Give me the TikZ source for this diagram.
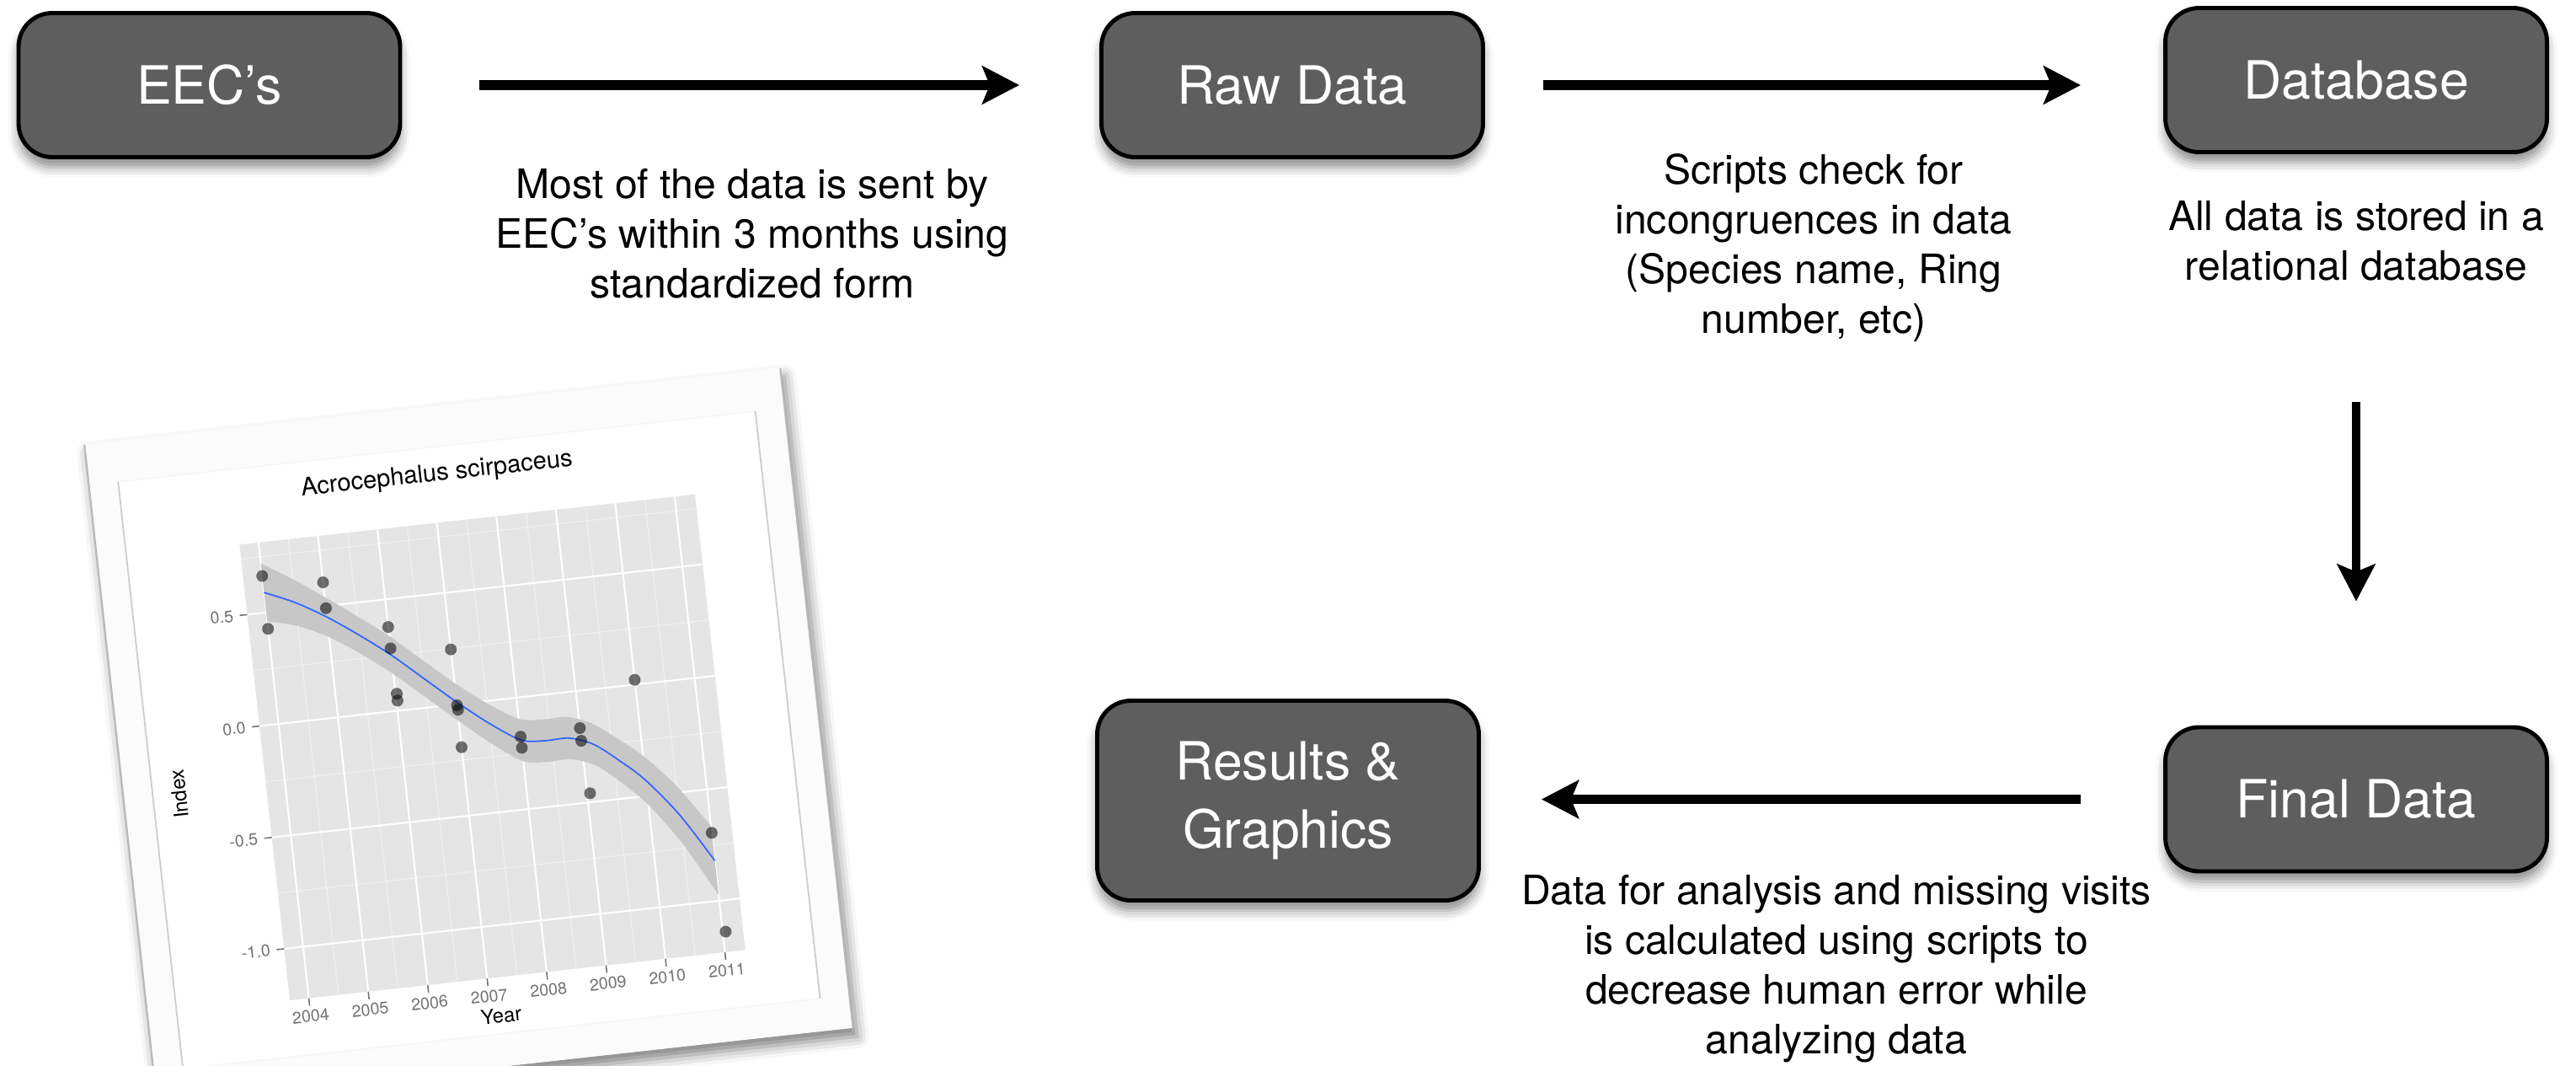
\documentclass[tikz,border=0pt]{standalone}
\usepackage{fontspec}
\setmainfont{TeX Gyre Heros}
\usetikzlibrary{arrows.meta,shadows.blur}

\definecolor{boxgray}{RGB}{94,94,94}
\definecolor{panelgray}{RGB}{229,229,229}
\definecolor{bandgray}{RGB}{199,199,199}
\definecolor{fitblue}{RGB}{51,102,255}
\definecolor{paperwhite}{RGB}{251,251,251}

\begin{document}
\begin{tikzpicture}[
    stagebox/.style={draw=black, line width=1.4pt, fill=boxgray, rounded corners=0.4cm,
        minimum width=4.53cm, minimum height=1.71cm, text=white, align=center,
        font=\fontsize{17.8}{23}\selectfont,
        blur shadow={shadow xshift=0pt, shadow yshift=-0.12cm,
            shadow blur radius=0.12cm, shadow opacity=45}},
    note/.style={align=center, font=\fontsize{13.7}{16.8}\selectfont},
    flow/.style={line width=3.4pt, -{Stealth[length=0.44cm, width=0.45cm, inset=0.09cm]}},
    minorgrid/.style={gray!10, line width=0.3pt},
    majorgrid/.style={white, line width=0.6pt},
    tickmark/.style={black!55, line width=0.45pt},
    ticklab/.style={black!55, inner sep=0pt, font=\fontsize{5.6}{6}\selectfont},
    axistitle/.style={font=\fontsize{6.8}{8}\selectfont}
]
\useasboundingbox (0,0) rectangle (30.58,-12.64);

% Stages
\node[stagebox] (eec) at (2.485,-1.01) {EEC’s};
\node[stagebox] (raw) at (15.34,-1.01) {Raw Data};
\node[stagebox] (db)  at (27.97,-0.95) {Database};
\node[stagebox] (fin) at (27.97,-9.485) {Final Data};
\node[stagebox, minimum height=2.37cm] (res) at (15.29,-9.50) {Results \&\\Graphics};

% Flow between stages
\draw[flow, shorten <=0.92cm, shorten >=0.95cm] (eec.east) -- (raw.west);
\draw[flow, shorten <=0.69cm, shorten >=0.98cm] (raw.east) -- (raw.east -| db.west);
\draw[flow, line width=2.85pt, shorten <=2.94cm, shorten >=1.47cm] (db.south) -- (fin.north);
\draw[flow, shorten <=0.98cm, shorten >=0.72cm] (fin.west) -- (fin.west -| res.east);

% Notes
\node[note] (sendnote)  at (8.93,-2.77) {Most of the data is sent by\\EEC’s within 3 months using\\standardized form};
\node[note] (checknote) at (21.53,-2.94) {Scripts check for\\incongruences in data\\(Species name, Ring\\number, etc)};
\node[note] (storenote) at (27.97,-2.86) {All data is stored in a\\relational database};
\node[note] (calcnote)  at (21.80,-11.50) {Data for analysis and missing visits\\is calculated using scripts to\\decrease human error while\\analyzing data};

% Printed plot (tilted sheet)
\begin{scope}[shift={(3.44,-11.87)}, rotate=6.3, transform shape]
  \fill[paperwhite, blur shadow={shadow xshift=0.05cm, shadow yshift=-0.1cm,
      shadow blur radius=0.14cm, shadow opacity=50}] (-1.70,-1.06) rectangle (6.61,6.82);
  \draw[gray!55, line width=0.6pt] (-1.70,-1.06) -- (-1.70,6.82) (6.61,-1.06) -- (6.61,6.82);
  \fill[white] (-1.35,-0.67) rectangle (6.26,6.34);
  \draw[gray!8, line width=0.4pt] (-1.35,6.34) -- (6.26,6.34) (-1.35,-0.67) -- (6.26,-0.67);
  \draw[gray!40, line width=0.5pt] (-1.35,-0.67) -- (-1.35,6.34) (6.26,-0.67) -- (6.26,6.34);

  % panel
  \fill[panelgray] (0,0) rectangle (5.44,5.44);

  \begin{scope}[shift={(0.2272,3.2745)}, x=0.71cm, y=2.66cm]
    % grid
    \foreach \t in {0.5,1.5,...,6.5} \draw[minorgrid] (\t,-1.231) -- (\t,0.814);
    \foreach \v in {-0.75,-0.25,0.25,0.75} \draw[minorgrid] (-0.32,\v) -- (7.342,\v);
    \foreach \t in {0,...,7} \draw[majorgrid] (\t,-1.231) -- (\t,0.814);
    \foreach \v in {-1,-0.5,0,0.5} \draw[majorgrid] (-0.32,\v) -- (7.342,\v);

    % confidence band
    \fill[bandgray] plot[smooth] coordinates {(0,0.72) (0.5,0.635) (1,0.54) (1.5,0.44)
        (2,0.335) (2.5,0.215) (3,0.095) (3.5,-0.01) (4,-0.095) (4.4,-0.11) (4.8,-0.11)
        (5.2,-0.15) (5.6,-0.23) (6,-0.32) (6.5,-0.47) (7,-0.665)}
      -- plot[smooth] coordinates {(7,-0.975) (6.5,-0.73) (6,-0.54) (5.6,-0.43)
        (5.2,-0.34) (4.8,-0.30) (4.4,-0.30) (4,-0.285) (3.5,-0.19) (3,-0.075)
        (2.5,0.045) (2,0.165) (1.5,0.27) (1,0.36) (0.5,0.425) (0,0.46)} -- cycle;

    % fitted curve
    \draw[fitblue, line width=0.5pt] plot[smooth] coordinates {(0,0.59) (0.5,0.53)
        (1,0.45) (1.5,0.355) (2,0.25) (2.5,0.13) (3,0.01) (3.5,-0.10) (4,-0.19)
        (4.4,-0.205) (4.8,-0.205) (5.2,-0.245) (5.6,-0.33) (6,-0.43) (6.5,-0.60) (7,-0.82)};

    % observations
    \foreach \t/\v in {0/0.664, 0/0.427, 1/0.606, 1/0.49, 2/0.376, 2/0.28, 2.02/0.076,
        2.02/0.045, 3/0.246, 3/-0.005, 3.01/-0.025, 3/-0.193, 4/-0.175, 4/-0.225,
        5/-0.166, 5/-0.223, 5.05/-0.46, 6/0.021, 7/-0.695, 7.05/-1.14}
      \fill[black, opacity=0.55] (\t,\v) circle (0.07cm);

    % axes
    \foreach \t in {0,...,7} {
      \draw[tickmark] (\t,-1.231) -- ++(0cm,-0.09cm);
      \node[ticklab] at (\t,-1.312) {\the\numexpr2004+\t\relax};
    }
    \foreach \v/\lab in {-1/-1.0, -0.5/-0.5, 0/0.0, 0.5/0.5} {
      \draw[tickmark] (-0.32,\v) -- ++(-0.09cm,0cm);
      \node[ticklab, anchor=east] at (-0.545,\v) {\lab};
    }
  \end{scope}

  \node[axistitle] at (2.475,-0.454) {Year};
  \node[axistitle, rotate=90] at (-1.04,2.58) {Index};
  \node[font=\fontsize{8.3}{10}\selectfont] at (2.42,6.01) {Acrocephalus scirpaceus};
\end{scope}

\end{tikzpicture}
\end{document}
